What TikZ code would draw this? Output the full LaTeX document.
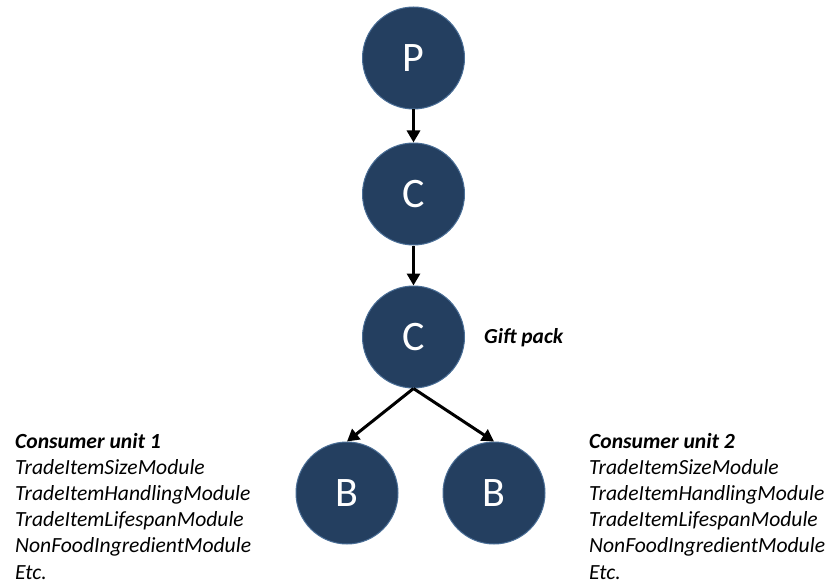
\documentclass[tikz,border=0pt]{standalone}
\usepackage{fontspec}
\setmainfont{Carlito}
\usetikzlibrary{arrows.meta}
\definecolor{navy}{HTML}{243F60}
\definecolor{rim}{HTML}{4A6E96}
\begin{document}
\begin{tikzpicture}[x=1pt,y=-1pt,
  ball/.style={circle,minimum size=102pt,inner sep=0pt,fill=navy,draw=rim,line width=1pt,
    text=white,font=\fontsize{42}{46}\selectfont},
  arr/.style={-{Triangle[width=13pt,length=12pt]},line width=3pt,black},
  info/.style={anchor=base west,align=left,inner sep=0pt,font=\fontsize{21.6}{26.2}\selectfont\itshape}]
\useasboundingbox (0,0) rectangle (830,583);
\node[ball] (P) at (413.5,58) {P};
\node[ball] (C1) at (413.5,194) {C};
\node[ball] (C2) at (413.5,337) {C};
\node[ball] (B1) at (347,493) {B};
\node[ball] (B2) at (494,493) {B};
\draw[arr] (P) -- (C1);
\draw[arr] (C1) -- (C2);
\draw[arr] (C2.south) -- (B1.north);
\draw[arr] (C2.south) -- (B2.north);
\node[anchor=west,inner sep=0pt,font=\fontsize{21.4}{24}\selectfont\bfseries\itshape] (gift) at (484,338) {Gift pack};
\node[info] (cu1) at (15,579) {\textbf{Consumer unit 1}\\TradeItemSizeModule\\TradeItemHandlingModule\\TradeItemLifespanModule\\NonFoodIngredientModule\\Etc.};
\node[info] (cu2) at (589,579) {\textbf{Consumer unit 2}\\TradeItemSizeModule\\TradeItemHandlingModule\\TradeItemLifespanModule\\NonFoodIngredientModule\\Etc.};
\end{tikzpicture}
\end{document}
